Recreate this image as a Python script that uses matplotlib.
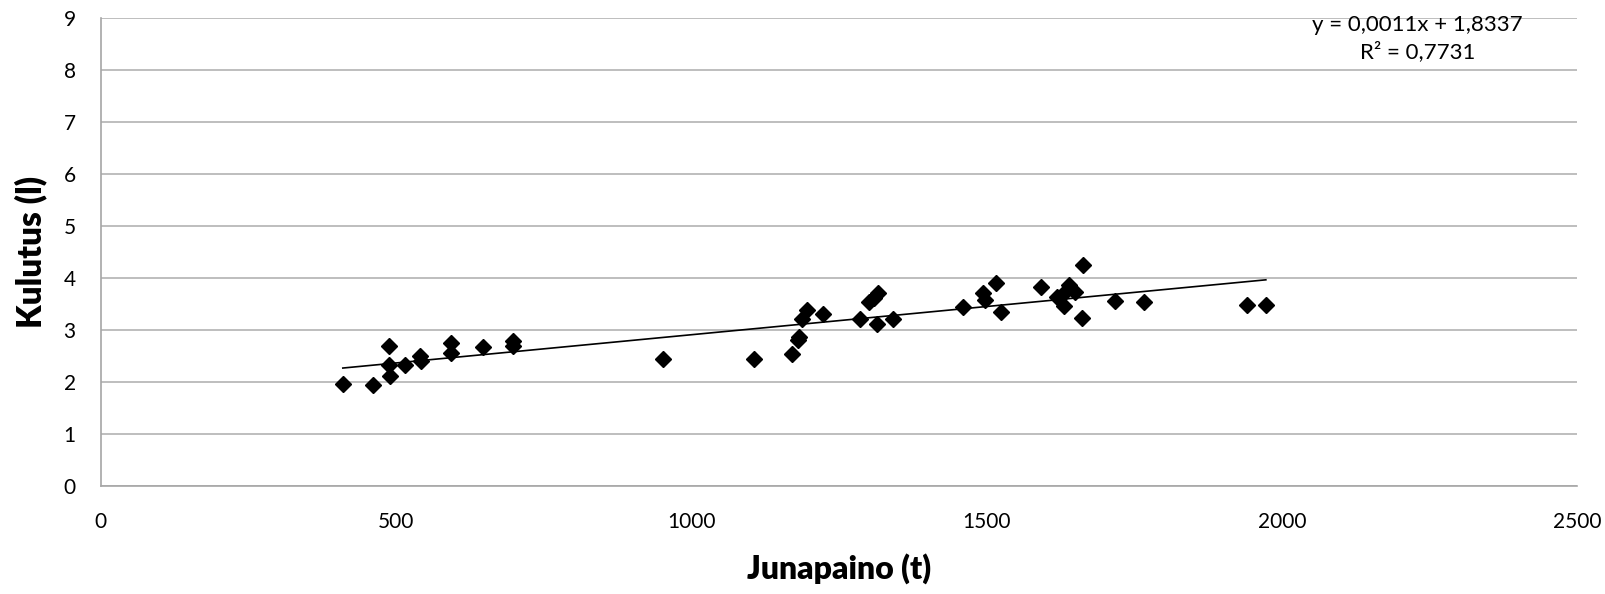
import matplotlib.pyplot as plt
import numpy as np

plt.rcParams['font.family'] = ['Lato', 'DejaVu Sans']

# train weight (t) vs consumption (l)
junapaino = [410, 461, 489, 489, 490, 515, 541, 542, 594, 594, 647, 699, 699,
             952, 1106, 1171, 1180, 1183, 1187, 1196, 1223, 1285, 1301, 1309,
             1317, 1314, 1341, 1460, 1494, 1497, 1516, 1525, 1592, 1619, 1628,
             1631, 1639, 1650, 1664, 1662, 1718, 1767, 1941, 1973]
kulutus = [1.95, 1.93, 2.69, 2.32, 2.11, 2.32, 2.50, 2.40, 2.75, 2.56, 2.66, 2.79, 2.69,
           2.44, 2.44, 2.54, 2.80, 2.86, 3.21, 3.38, 3.30, 3.21, 3.53, 3.62,
           3.71, 3.12, 3.21, 3.44, 3.71, 3.57, 3.89, 3.35, 3.82, 3.63, 3.67,
           3.46, 3.86, 3.73, 4.24, 3.23, 3.56, 3.53, 3.48, 3.48]

x_ticks = [0, 500, 1000, 1500, 2000, 2500]
y_ticks = list(range(0, 10))
equation = "y = 0,0011x + 1,8337\nR² = 0,7731"

x = np.array(junapaino)
y = np.array(kulutus)

fig = plt.figure(figsize=(16.06, 5.94), dpi=100)
ax = fig.add_axes([0.0627, 0.1823, 0.9193, 0.7877])

# linear trendline over data range
k, b = np.polyfit(x, y, 1)
xs = np.array([x.min(), x.max()])
ax.plot(xs, k * xs + b, color='black', lw=1.2, zorder=2)

ax.plot(x, y, 'D', color='black', markersize=8.6, zorder=3)

ax.set_xlim(0, 2500)
ax.set_ylim(0, 9)
ax.set_xticks(x_ticks)
ax.set_yticks(y_ticks)
ax.tick_params(axis='both', length=0, labelsize=15)
ax.tick_params(axis='x', pad=19)
ax.tick_params(axis='y', pad=18)

ax.grid(axis='y', color='#b3b3b3', lw=1.2)
ax.set_axisbelow(True)
for s in ['top', 'right']:
    ax.spines[s].set_visible(False)
for s in ['left', 'bottom']:
    ax.spines[s].set_color('#a6a6a6')
    ax.spines[s].set_linewidth(1.2)

ax.set_xlabel("Junapaino (t)", fontsize=23, fontweight='heavy', labelpad=15)
ax.set_ylabel("Kulutus (l)", fontsize=24, fontweight='heavy', labelpad=12)

ax.text(2230, 8.6, equation, ha='center', va='center', fontsize=16,
        linespacing=1.4)

fig.savefig("out.png", dpi=100)
